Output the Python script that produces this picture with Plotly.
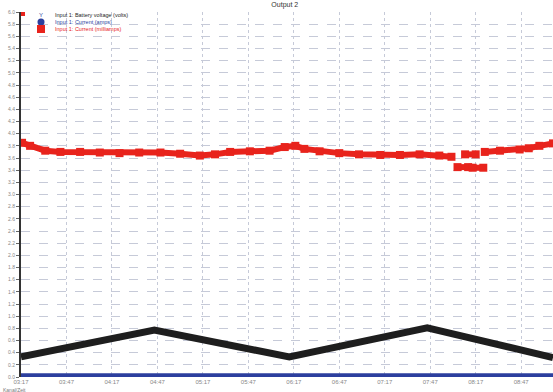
import plotly.graph_objects as go

# Time axis in minutes from the start of the recording
tick_minutes = [0, 30, 60, 90, 120, 150, 180, 210, 240, 270, 300, 330]
tick_labels = ["03:17", "03:47", "04:17", "04:47", "05:17", "05:47",
               "06:17", "06:47", "07:17", "07:47", "08:17", "08:47"]

# Input 1: battery voltage (volts)
volt_minutes = [0, 88, 177, 268, 351]
volt_values = [0.33, 0.77, 0.33, 0.81, 0.32]

# Input 1: current (amps)
amp_minutes = [0, 20, 40, 60, 120, 180, 240, 300, 351]
amp_values = [0.02, 0.03, 0.02, 0.02, 0.02, 0.02, 0.02, 0.03, 0.02]

# Input 1: current (milliamps), None marks breaks in the record
ma_minutes = [0, None, 0.7, 6, 16, 26, 39, 52, 65, 78, 92, 105, 118, 128, 138, 151,
              164, 174, 181, 187, 197, 210, 223, 237, 250, 263, 276, 284, None,
              288, 295, None, 293, 300, None, 298, 305, None,
              306, 316, 329, 335, 342, 351]
ma_values = [6.0, None, 3.85, 3.80, 3.72, 3.70, 3.70, 3.69, 3.68, 3.69, 3.69, 3.67, 3.64,
             3.66, 3.70, 3.71, 3.72, 3.78, 3.80, 3.75, 3.71, 3.68, 3.66, 3.65, 3.65,
             3.66, 3.64, 3.62, None,
             3.45, 3.45, None, 3.66, 3.66, None, 3.44, 3.44, None,
             3.70, 3.72, 3.74, 3.76, 3.80, 3.84]

series_names = ["Input 1: Battery voltage (volts)",
                "Input 1: Current (amps)",
                "Input 1: Current (milliamps)"]

y_ticks = [round(i * 0.2, 1) for i in range(31)]

BLACK = "#1e1e1e"
BLUE = "#2c3f9e"
RED = "#e8231c"
GRID = "#c6cad8"

fig = go.Figure()

fig.add_trace(go.Scatter(
    x=volt_minutes, y=volt_values, mode="lines", name=series_names[0],
    line=dict(color=BLACK, width=7)))
fig.add_trace(go.Scatter(
    x=amp_minutes, y=amp_values, mode="lines", name=series_names[1],
    line=dict(color=BLUE, width=5)))
fig.add_trace(go.Scatter(
    x=ma_minutes, y=ma_values, mode="lines+markers", name=series_names[2],
    line=dict(color=RED, width=6),
    marker=dict(symbol="square", size=8, color=RED),
    connectgaps=False))

fig.update_layout(
    width=553, height=392,
    margin=dict(l=21, r=0, t=12, b=15),
    paper_bgcolor="white", plot_bgcolor="white",
    font=dict(family="Liberation Sans, Arial, sans-serif", size=6, color="#666"),
    title=dict(text="Output 2", x=0.515, xanchor="center", y=0.995, yanchor="top",
               font=dict(size=7, color="#333")),
    showlegend=False,
)


def px_x(p):
    return (p - 21) / 532


def px_y(p):
    return (377 - p) / 365


# compact legend block in the upper left of the plot
legend_colors = [BLACK, BLUE, RED]
legend_y = [15, 22, 29]  # pixel rows from the top of the canvas
for name, col, py in zip(series_names, legend_colors, legend_y):
    fig.add_annotation(text=name, xref="paper", yref="paper",
                       x=px_x(53), y=px_y(py),
                       xanchor="left", yanchor="middle", showarrow=False,
                       font=dict(size=5.5, color=col))

fig.add_annotation(text="Y", xref="paper", yref="paper", x=px_x(41), y=px_y(15),
                   xanchor="center", yanchor="middle", showarrow=False,
                   font=dict(size=6, color=BLUE))
fig.add_shape(type="circle", xref="paper", yref="paper",
              x0=px_x(37.5), x1=px_x(44.5), y0=px_y(25.5), y1=px_y(18.5),
              fillcolor=BLUE, line=dict(color=BLUE, width=0))
fig.add_shape(type="rect", xref="paper", yref="paper",
              x0=px_x(37), x1=px_x(45), y0=px_y(33), y1=px_y(25),
              fillcolor=RED, line=dict(color=RED, width=0))

fig.update_xaxes(
    range=[0, 351], tickvals=tick_minutes, ticktext=tick_labels,
    showgrid=True, gridcolor=GRID, griddash="dot", gridwidth=1,
    zeroline=False, showline=False, ticks="", tickfont=dict(size=6, color="#888"))
fig.update_yaxes(
    range=[0, 6.0], tickvals=y_ticks, ticktext=[f"{v:.1f}" for v in y_ticks],
    showgrid=True, gridcolor=GRID, griddash="dash", gridwidth=1,
    zeroline=False, showline=True, linecolor="#333", linewidth=2,
    ticks="outside", ticklen=3, tickcolor="#666", tickfont=dict(size=5, color="#888"))

fig.add_annotation(text="Kanal/Zeit", x=px_x(1), y=0, xref="paper", yref="paper",
                   xanchor="left", yanchor="top", yshift=-8, showarrow=False,
                   font=dict(size=5, color="#777"))

fig.write_html("out.html")
